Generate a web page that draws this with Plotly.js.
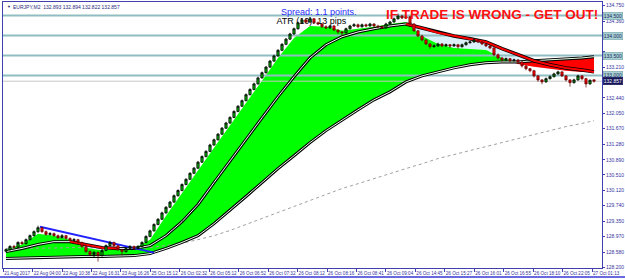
<!DOCTYPE html>
<html><head><meta charset="utf-8">
<script src="https://cdn.plot.ly/plotly-3.0.1.min.js"></script>
<style>html,body{margin:0;padding:0;background:#fff;}#chart{width:625px;height:279px;}</style>
</head><body><div id="chart"></div>
<script>
// ---------- DATA ----------
const symbolName = "EURJPY,M2";
const barOpen = [128.60,128.64,128.72,128.70,128.82,128.79,128.89,128.99,129.09,129.19,
 129.09,129.02,129.04,128.99,128.94,128.99,128.92,128.87,128.89,128.82,
 128.72,128.59,128.52,128.57,128.49,128.62,128.74,128.82,128.74,128.64,
 128.59,128.67,128.72,128.67,128.72,128.82,128.97,129.11,129.27,129.40,
 129.56,129.70,129.83,129.99,130.12,130.27,130.40,130.55,130.68,130.83,
 130.97,131.10,131.26,131.39,131.53,131.68,131.81,131.95,132.10,132.23,
 132.37,132.52,132.65,132.79,132.94,133.07,133.21,133.36,133.49,133.63,
 133.78,133.91,134.04,134.17,134.32,134.39,134.34,134.42,134.32,134.29,
 134.22,134.19,134.24,134.14,134.09,134.07,134.17,134.24,134.27,134.22,
 134.27,134.24,134.29,134.24,134.22,134.19,134.29,134.34,134.42,134.49,
 134.44,134.47,134.29,134.12,133.99,133.89,133.79,133.72,133.74,133.79,
 133.74,133.77,133.74,133.77,133.72,133.77,133.82,133.84,133.89,133.84,
 133.79,133.74,133.69,133.52,133.44,133.39,133.42,133.37,133.39,133.34,
 133.24,133.17,133.12,132.99,132.89,132.84,132.92,132.97,133.04,133.09,
 132.99,132.89,132.82,132.89,132.99,132.92,132.79,132.893];
const barHigh = [128.67,128.75,128.76,128.85,128.86,128.92,129.02,129.12,129.24,129.21,
 129.12,129.08,129.07,129.02,129.03,129.01,128.95,128.93,128.91,128.84,
 128.74,128.62,128.60,128.59,128.65,128.77,128.86,128.84,128.76,128.66,
 128.70,128.75,128.74,128.75,128.85,129.00,129.14,129.30,129.43,129.59,
 129.73,129.86,130.02,130.15,130.30,130.43,130.58,130.71,130.86,131.00,
 131.13,131.29,131.42,131.56,131.71,131.84,131.98,132.13,132.26,132.40,
 132.55,132.68,132.82,132.97,133.10,133.24,133.39,133.52,133.66,133.81,
 133.94,134.07,134.20,134.35,134.44,134.42,134.46,134.44,134.35,134.31,
 134.26,134.27,134.26,134.16,134.12,134.20,134.27,134.31,134.30,134.30,
 134.30,134.32,134.31,134.27,134.25,134.32,134.37,134.45,134.55,134.52,
 134.51,134.49,134.31,134.14,134.02,133.92,133.81,133.78,133.82,133.81,
 133.80,133.79,133.80,133.79,133.80,133.85,133.87,133.93,133.91,133.86,
 133.81,133.76,133.71,133.55,133.46,133.45,133.44,133.42,133.41,133.36,
 133.26,133.19,133.14,133.01,132.91,132.95,133.00,133.07,133.12,133.11,
 133.01,132.91,132.92,133.02,133.01,132.94,132.90,132.894];
const barLow = [128.57,128.62,128.67,128.68,128.76,128.77,128.87,128.97,129.06,129.06,
 128.99,128.99,128.96,128.91,128.92,128.89,128.84,128.85,128.79,128.69,
 128.56,128.48,128.44,128.34,128.47,128.60,128.72,128.71,128.61,128.50,
 128.57,128.65,128.63,128.65,128.70,128.80,128.95,129.09,129.25,129.38,
 129.54,129.68,129.81,129.97,130.10,130.25,130.38,130.53,130.66,130.81,
 130.95,131.08,131.24,131.37,131.51,131.66,131.79,131.93,132.08,132.21,
 132.35,132.50,132.63,132.77,132.92,133.05,133.19,133.34,133.47,133.61,
 133.76,133.89,134.02,134.15,134.30,134.31,134.32,134.29,134.26,134.19,
 134.16,134.17,134.11,134.04,133.99,134.05,134.15,134.22,134.19,134.20,
 134.21,134.22,134.21,134.19,134.16,134.17,134.27,134.32,134.40,134.41,
 134.42,134.26,134.09,133.96,133.86,133.76,133.67,133.70,133.72,133.71,
 133.72,133.69,133.72,133.67,133.70,133.75,133.80,133.82,133.81,133.76,
 133.71,133.66,133.48,133.40,133.35,133.37,133.33,133.35,133.30,133.20,
 133.13,133.08,132.95,132.84,132.78,132.82,132.90,132.95,133.02,132.96,
 132.85,132.72,132.80,132.87,132.88,132.70,132.77,132.822];
const barClose = [128.64,128.72,128.70,128.82,128.79,128.89,128.99,129.09,129.19,129.09,
 129.02,129.04,128.99,128.94,128.99,128.92,128.87,128.89,128.82,128.72,
 128.59,128.52,128.57,128.49,128.62,128.74,128.82,128.74,128.64,128.59,
 128.67,128.72,128.67,128.72,128.82,128.97,129.11,129.27,129.40,129.56,
 129.70,129.83,129.99,130.12,130.27,130.40,130.55,130.68,130.83,130.97,
 131.10,131.26,131.39,131.53,131.68,131.81,131.95,132.10,132.23,132.37,
 132.52,132.65,132.79,132.94,133.07,133.21,133.36,133.49,133.63,133.78,
 133.91,134.04,134.17,134.32,134.39,134.34,134.42,134.32,134.29,134.22,
 134.19,134.24,134.14,134.09,134.07,134.17,134.24,134.27,134.22,134.27,
 134.24,134.29,134.24,134.22,134.19,134.29,134.34,134.42,134.49,134.44,
 134.47,134.29,134.12,133.99,133.89,133.79,133.72,133.74,133.79,133.74,
 133.77,133.74,133.77,133.72,133.77,133.82,133.84,133.89,133.84,133.79,
 133.74,133.69,133.52,133.44,133.39,133.42,133.37,133.39,133.34,133.24,
 133.17,133.12,132.99,132.89,132.84,132.92,132.97,133.04,133.09,132.99,
 132.89,132.82,132.89,132.99,132.92,132.79,132.88,132.857];

// indicator samples (bar index of each sample)
const maIndex = [0,4,8,12,16,20,24,28,32,36,40,44,48,52,56,60,64,68,72,76,80,84,88,92,96,100,104,108,112,116,120,124,128,132,136,140,144,147];
const maFast = [128.64,128.77,129.04,128.99,128.89,128.69,128.62,128.67,128.67,128.89,
 129.49,130.04,130.62,131.19,131.74,132.32,132.87,133.44,133.94,134.24,
 134.22,134.12,134.17,134.22,134.29,134.34,133.99,133.79,133.69,133.67,
 133.64,133.44,133.29,133.22,133.17,133.12,133.09,133.09];
const maMid = [128.59,128.67,128.77,128.84,128.84,128.77,128.69,128.67,128.67,128.74,
 128.99,129.34,129.77,130.32,130.87,131.42,131.94,132.47,132.97,133.44,
 133.77,133.97,134.09,134.17,134.24,134.29,134.19,134.07,133.99,133.92,
 133.84,133.67,133.52,133.37,133.27,133.19,133.14,133.09];
const maSlow = [128.42,128.43,128.44,128.45,128.47,128.47,128.47,128.48,128.49,128.54,
 128.67,128.82,128.99,129.29,129.62,129.97,130.32,130.67,130.99,131.32,
 131.62,131.89,132.14,132.39,132.59,132.84,132.99,133.09,133.19,133.27,
 133.32,133.34,133.34,133.37,133.39,133.42,133.44,133.47];
const maLong = [128.67,128.67,128.67,128.68,128.69,128.69,128.69,128.68,128.67,128.69,
 128.74,128.80,128.89,128.99,129.12,129.27,129.42,129.57,129.72,129.87,
 130.02,130.17,130.29,130.42,130.54,130.67,130.79,130.92,131.02,131.12,
 131.22,131.32,131.42,131.52,131.62,131.72,131.80,131.87];

const levelPrices = [134.5, 134.0, 133.5, 133.0];
const trendX = [8.5, 37];
const trendY = [129.215, 128.565];
const spreadText = "Spread: 1.1 points.";
const atrText = "ATR (10): 13 pips";
const warnText = "IF TRADE IS WRONG - GET OUT!";

const yTickText = ["128.200","128.580","128.970","129.350","129.740","130.120","130.510","130.890","131.280","131.670","132.050","132.440","132.820","133.210","133.590","133.980","134.360","134.750"];
const xTickText = ["21 Aug 2017","22 Aug 04:00","22 Aug 10:38","22 Aug 16:31","23 Aug 16:26","25 Oct 15:12","26 Oct 02:32","26 Oct 05:12","26 Oct 06:52","26 Oct 07:32","26 Oct 08:12","26 Oct 08:16","26 Oct 08:41","26 Oct 09:04","26 Oct 14:45","26 Oct 15:27","26 Oct 16:01","26 Oct 16:55","26 Oct 18:10","26 Oct 22:05","27 Oct 01:13"];

// ---------- BUILD ----------
const n = barClose.length;
const barIndex = barClose.map((_, i) => i);
const lastPrice = barClose[n - 1];
const xr = [-0.75, 149];
const yr = [128.18, 134.84];
const navy = '#4040b0';
const sans = '"Liberation Sans", Arial, sans-serif';

function fillRuns(xs, a, b, color) {
  const out = [];
  let cx = [], ca = [], cb = [];
  const flush = () => {
    if (cx.length > 1) out.push({x: cx.concat(cx.slice().reverse()), y: ca.concat(cb.slice().reverse()),
      mode: 'lines', fill: 'toself', fillcolor: color, line: {width: 0}, hoverinfo: 'skip', showlegend: false, xaxis: 'x', yaxis: 'y'});
    cx = []; ca = []; cb = [];
  };
  for (let i = 0; i < xs.length; i++) {
    const d = a[i] - b[i];
    if (d > 0) { cx.push(xs[i]); ca.push(a[i]); cb.push(b[i]); }
    if (i < xs.length - 1) {
      const d2 = a[i+1] - b[i+1];
      if ((d > 0) !== (d2 > 0)) {
        const t = d / (d - d2);
        const xc = xs[i] + t * (xs[i+1] - xs[i]);
        const yc = a[i] + t * (a[i+1] - a[i]);
        if (d > 0) { cx.push(xc); ca.push(yc); cb.push(yc); flush(); }
        else { cx = [xc]; ca = [yc]; cb = [yc]; }
      }
    }
  }
  flush();
  return out;
}
function slopeRuns(xs, ys) {
  const out = []; let cur = null;
  for (let i = 0; i < xs.length - 1; i++) {
    const falling = ys[i+1] < ys[i];
    if (!cur || cur.falling !== falling) { cur = {x: [xs[i]], y: [ys[i]], falling}; out.push(cur); }
    cur.x.push(xs[i+1]); cur.y.push(ys[i+1]);
  }
  return out;
}
const L = (x, y, color, width, dash) => ({x, y, mode: 'lines', line: {color, width, dash: dash || 'solid'}, hoverinfo: 'skip', showlegend: false, xaxis: 'x', yaxis: 'y'});

const traces = [];
traces.push(...fillRuns(maIndex, maMid, maFast, '#dcf0fa'));
traces.push(...fillRuns(maIndex, maFast, maSlow, '#00ff00'));
traces.push(...fillRuns(maIndex, maSlow, maFast, '#ff0000'));
levelPrices.forEach(p => traces.push(L(xr, [p, p], '#8fbdc1', 2)));
traces.push(L(xr, [lastPrice, lastPrice], '#c8c8c8', 1));
traces.push(L(maIndex, maLong, '#a0a0a0', 1, 'dot'));
traces.push(L(maIndex, maSlow, '#000000', 3));
traces.push(L(maIndex, maSlow, '#e8ffe8', 1));
slopeRuns(maIndex, maMid).forEach(r => {
  traces.push(L(r.x, r.y, '#000000', r.falling ? 3.5 : 3));
  traces.push(L(r.x, r.y, r.falling ? '#ff0000' : '#f4fff4', r.falling ? 2 : 1));
});
traces.push(L(trendX, trendY, '#2222ff', 2));
traces.push({x: [67.6], y: [134.335], mode: 'text', text: [atrText], textposition: 'middle right',
  textfont: {family: sans, size: 9, color: '#000'}, hoverinfo: 'skip', showlegend: false, xaxis: 'x', yaxis: 'y'});
traces.push({type: 'candlestick', x: barIndex, open: barOpen, high: barHigh, low: barLow, close: barClose,
  xaxis: 'x2', yaxis: 'y2', whiskerwidth: 0, hoverinfo: 'skip', showlegend: false,
  increasing: {line: {color: '#000000', width: 0.8}, fillcolor: '#00b000'},
  decreasing: {line: {color: '#600000', width: 0.7}, fillcolor: '#ff0000'}});

// price boxes on the right scale
const boxPrices = levelPrices.concat([lastPrice]);
const annotations = [];
levelPrices.forEach(p => annotations.push({xref: 'paper', x: 1, xanchor: 'left', xshift: 1, yref: 'y', y: p,
  text: p.toFixed(3), showarrow: false, font: {family: sans, size: 5, color: '#1a2a60'},
  bgcolor: '#a9d0d3', bordercolor: '#6a9aa0', borderwidth: 0.5, borderpad: 0.3}));
annotations.push({xref: 'paper', x: 1, xanchor: 'left', xshift: 1, yref: 'y', y: lastPrice,
  text: lastPrice.toFixed(3), showarrow: false, font: {family: sans, size: 5, color: '#ffffff'},
  bgcolor: '#14145a', bordercolor: '#14145a', borderwidth: 0.5, borderpad: 0.3});
annotations.push({xref: 'paper', yref: 'paper', x: 0.004, y: 0.982, xanchor: 'left', yanchor: 'middle', showarrow: false,
  text: '▼', font: {family: sans, size: 4, color: '#202070'}});
annotations.push({xref: 'paper', yref: 'paper', x: 0.014, y: 0.982, xanchor: 'left', yanchor: 'middle', showarrow: false,
  text: symbolName + '  ' + [barOpen[n-1], barHigh[n-1], barLow[n-1], barClose[n-1]].map(v => v.toFixed(3)).join(' '),
  font: {family: sans, size: 5, color: '#2a2a80'}});
annotations.push({xref: 'paper', yref: 'paper', x: (279 - 3) / 599, y: 1 - (12 - 2) / 266, xanchor: 'left', yanchor: 'middle',
  showarrow: false, text: spreadText, font: {family: sans, size: 9, color: '#2a2aff'}});
annotations.push({xref: 'paper', yref: 'paper', x: (384 - 3) / 599, y: 1 - (14 - 2) / 266, xanchor: 'left', yanchor: 'middle',
  showarrow: false, text: '<b>' + warnText + '</b>', font: {family: sans, size: 13.5, color: '#ff1010'}});

// scale labels hidden behind price boxes
const yTickShown = yTickText.map(t => boxPrices.some(p => Math.abs(parseFloat(t) - p) < 0.11) ? '' : t);

const layout = {
  width: 625, height: 279, margin: {l: 3, r: 23, t: 2, b: 11, pad: 0},
  paper_bgcolor: '#ffffff', plot_bgcolor: '#ffffff', showlegend: false, dragmode: false, boxgap: 0.2,
  xaxis: {range: xr, showgrid: false, zeroline: false, showline: true, mirror: true, linecolor: navy, linewidth: 1,
    ticks: 'outside', ticklen: 3, tickcolor: navy, tickvals: xTickText.map((_, k) => -0.7 + k * 7.36), ticktext: xTickText,
    ticklabelposition: 'outside right', tickangle: 0, tickfont: {family: sans, size: 4.6, color: '#3434a0'},
    rangeslider: {visible: false}, fixedrange: true},
  yaxis: {range: yr, side: 'right', showgrid: false, zeroline: false, showline: true, mirror: true, linecolor: navy, linewidth: 1,
    ticks: 'outside', ticklen: 2, tickcolor: navy, tickvals: yTickText.map(parseFloat), ticktext: yTickShown,
    tickfont: {family: sans, size: 5, color: '#3434a0'}, fixedrange: true},
  xaxis2: {overlaying: 'x', anchor: 'y2', range: xr, visible: false, rangeslider: {visible: false}, fixedrange: true},
  yaxis2: {overlaying: 'y', anchor: 'x2', side: 'right', range: yr, visible: false, fixedrange: true},
  annotations,
  shapes: [{type: 'line', xref: 'paper', yref: 'paper', x0: -0.01, x1: 1.05, y0: -0.034, y1: -0.034, line: {color: '#6a6ae0', width: 2}}]
};
Plotly.newPlot('chart', traces, layout, {staticPlot: true, displayModeBar: false});
</script></body></html>
